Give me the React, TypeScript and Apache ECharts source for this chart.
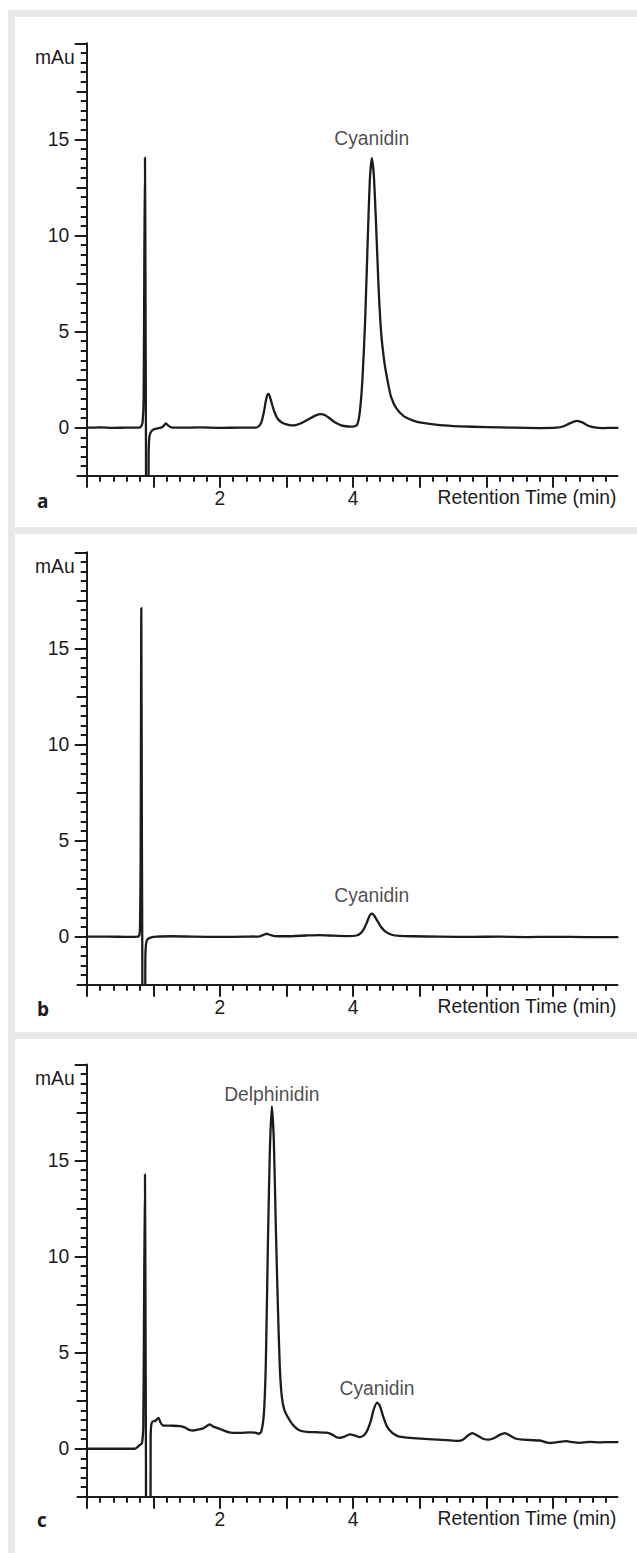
import React, { useEffect, useRef } from 'react';
import * as echarts from 'echarts';

// ---------- data ----------
const X_MIN = 0;
const X_MAX = 7.97;
const Y_MIN = -2.5;
const Y_MAX = 20;

const xMajorTicks = [0, 1, 2, 3, 4, 5, 6, 7];
const xMinorTicks = Array.from({ length: 40 }, (_, i) => Math.round(i * 2) / 10);
const xLabelTicks = [2, 4];
const yLabelTicks = [0, 5, 10, 15];
const yMajorTicks = [0, 5, 10, 15, 20];
const yMediumTicks = [-2.5, 2.5, 7.5, 12.5, 17.5];
const yMinorTicks = Array.from({ length: 46 }, (_, i) => -2.5 + i * 0.5);

const panelLetters = ['a', 'b', 'c'];
const xAxisName = 'Retention Time (min)';
const yAxisName = 'mAu';

// time (min), absorbance (mAu)
const traceA: [number, number][] = [
  [0, 0], [0.2, 0.01], [0.4, -0.01], [0.6, 0.0], [0.79, 0.0], [0.82, 0.08], [0.84, 0.3],
  [0.855, 1.5], [0.865, 8.5], [0.875, 14.05], [0.883, 7], [0.89, -1], [0.895, -8],
  [0.925, -8], [0.93, -1.5], [0.94, -0.5], [0.96, -0.25], [1.0, -0.1], [1.07, -0.04],
  [1.13, 0.02], [1.17, 0.15], [1.19, 0.22], [1.22, 0.12], [1.27, 0.02], [1.4, 0.0],
  [1.7, 0.01], [2.0, -0.01], [2.3, 0.0], [2.54, 0.0],
  [2.58, 0.06], [2.62, 0.25], [2.66, 0.8], [2.69, 1.4], [2.71, 1.68], [2.73, 1.75],
  [2.75, 1.62], [2.78, 1.25], [2.82, 0.8], [2.87, 0.45], [2.93, 0.27], [3.0, 0.17],
  [3.08, 0.12], [3.15, 0.15], [3.25, 0.28], [3.35, 0.48], [3.45, 0.65], [3.51, 0.7],
  [3.58, 0.65], [3.66, 0.45], [3.74, 0.25], [3.82, 0.12], [3.92, 0.06], [4.0, 0.05],
  [4.06, 0.15], [4.1, 0.8], [4.14, 2.5], [4.18, 5.5], [4.22, 9.8], [4.25, 12.8],
  [4.28, 14.03], [4.31, 13.2], [4.34, 11.0], [4.38, 7.5], [4.42, 5.0], [4.47, 3.4],
  [4.52, 2.4], [4.57, 1.6], [4.65, 1.0], [4.76, 0.6], [4.9, 0.37], [5.07, 0.23],
  [5.3, 0.13], [5.6, 0.07], [6.0, 0.03], [6.4, 0.0], [6.8, -0.02], [7.05, 0.0],
  [7.15, 0.06], [7.25, 0.22], [7.36, 0.35], [7.45, 0.26], [7.53, 0.1], [7.62, 0.02],
  [7.75, -0.02], [7.97, -0.01],
];

const traceB: [number, number][] = [
  [0, 0], [0.3, 0.0], [0.6, -0.01], [0.77, 0.0], [0.79, 0.08], [0.8, 0.4], [0.81, 4],
  [0.82, 17.1], [0.828, 6], [0.835, -1], [0.84, -8], [0.875, -8], [0.88, -1.2],
  [0.89, -0.4], [0.91, -0.15], [0.96, -0.05], [1.05, 0.0], [1.3, 0.02], [1.6, 0.0],
  [2.0, -0.01], [2.4, 0.0], [2.6, 0.02], [2.66, 0.1], [2.7, 0.15], [2.75, 0.1],
  [2.82, 0.03], [3.0, 0.02], [3.3, 0.06], [3.5, 0.08], [3.7, 0.05], [3.9, 0.03],
  [4.05, 0.06], [4.12, 0.2], [4.17, 0.45], [4.22, 0.85], [4.25, 1.1], [4.28, 1.2],
  [4.31, 1.13], [4.36, 0.85], [4.42, 0.5], [4.49, 0.25], [4.58, 0.1], [4.7, 0.04],
  [4.9, 0.02], [5.3, 0.0], [5.8, -0.01], [6.2, 0.0], [6.6, -0.02], [7.0, -0.01],
  [7.5, -0.02], [7.97, -0.02],
];

const traceC: [number, number][] = [
  [0, 0], [0.3, 0.0], [0.6, 0.0], [0.72, 0.0], [0.76, 0.08], [0.8, 0.2], [0.83, 0.3],
  [0.85, 1.2], [0.862, 8], [0.875, 14.27], [0.883, 7], [0.89, -1], [0.895, -8],
  [0.955, -8], [0.96, 0.5], [0.97, 1.25], [0.99, 1.42], [1.03, 1.45], [1.06, 1.55],
  [1.08, 1.6], [1.11, 1.35], [1.14, 1.22], [1.25, 1.2], [1.4, 1.18], [1.48, 1.1],
  [1.54, 0.98], [1.6, 0.95], [1.67, 1.0], [1.74, 1.05], [1.81, 1.2], [1.85, 1.27],
  [1.9, 1.15], [2.0, 1.03], [2.08, 0.92], [2.16, 0.84], [2.3, 0.83], [2.45, 0.85],
  [2.53, 0.84], [2.58, 0.78], [2.62, 0.88], [2.66, 1.8], [2.69, 4.5], [2.72, 10.5],
  [2.75, 15.5], [2.78, 17.83], [2.81, 16.0], [2.84, 11.5], [2.87, 7.5], [2.9, 4.2],
  [2.93, 2.7], [2.97, 2.0], [3.05, 1.47], [3.12, 1.15], [3.2, 0.95], [3.3, 0.88],
  [3.45, 0.86], [3.6, 0.84], [3.68, 0.75], [3.75, 0.6], [3.8, 0.57], [3.87, 0.63],
  [3.95, 0.75], [4.02, 0.7], [4.1, 0.6], [4.17, 0.72], [4.22, 1.0], [4.27, 1.5],
  [4.31, 2.05], [4.36, 2.4], [4.4, 2.25], [4.45, 1.7], [4.51, 1.15], [4.58, 0.85],
  [4.66, 0.67], [4.75, 0.6], [4.9, 0.55], [5.13, 0.5], [5.4, 0.45], [5.58, 0.41],
  [5.66, 0.5], [5.73, 0.7], [5.79, 0.81], [5.86, 0.7], [5.95, 0.52], [6.04, 0.47],
  [6.12, 0.56], [6.2, 0.72], [6.28, 0.81], [6.36, 0.68], [6.45, 0.52], [6.55, 0.47],
  [6.8, 0.43], [6.95, 0.3], [7.05, 0.33], [7.2, 0.4], [7.3, 0.34], [7.4, 0.31],
  [7.55, 0.36], [7.7, 0.33], [7.85, 0.35], [7.97, 0.35],
];

// named peaks: [name, time, height]
const peaksA: [string, number, number][] = [['Cyanidin', 4.28, 14.03]];
const peaksB: [string, number, number][] = [['Cyanidin', 4.28, 1.2]];
const peaksC: [string, number, number][] = [
  ['Delphinidin', 2.78, 17.83],
  ['Cyanidin', 4.36, 2.4],
];

const traces = [traceA, traceB, traceC];
const peaks = [peaksA, peaksB, peaksC];

// ---------- layout / style ----------
const W = 637;
const H = 1553;
const GRAY = '#e8e9e8';
const INK = '#1e1b1c';
const FONT = '"Liberation Sans", Arial, Helvetica, sans-serif';
const FS = 19.3;
const GRID_LEFT = 86.7;
const GRID_W = 530.8;
const GRID_H = 432.4;
const gridTops = [43.3, 552.3, 1064.4];
const panelRects = [
  { top: 17, height: 510 },
  { top: 534, height: 498 },
  { top: 1039, height: 514 },
];
const letterCenters = [501, 1009, 1520];
const peakLabelGaps = [[10], [9], [2, 5]];

function buildOption() {
  const grid: any[] = [];
  const xAxis: any[] = [];
  const yAxis: any[] = [];
  const series: any[] = [];
  const tickStyle = { color: INK, width: 2 };
  const textStyle = { fontSize: FS, fontFamily: FONT, color: INK };

  gridTops.forEach((top, i) => {
    grid.push({ left: GRID_LEFT, top, width: GRID_W, height: GRID_H });
    // x major
    xAxis.push({
      type: 'value', gridIndex: i, min: X_MIN, max: X_MAX, position: 'bottom',
      axisLine: { show: true, onZero: false, lineStyle: tickStyle },
      axisTick: { show: true, length: 12, customValues: xMajorTicks, lineStyle: tickStyle },
      axisLabel: { show: true, customValues: xLabelTicks, margin: 13.5, ...textStyle },
      splitLine: { show: false },
      name: xAxisName, nameLocation: 'end', nameGap: -1,
      nameTextStyle: { ...textStyle, align: 'right', verticalAlign: 'top', padding: [12.5, 0, 0, 0] },
    });
    // x minor
    xAxis.push({
      type: 'value', gridIndex: i, min: X_MIN, max: X_MAX, position: 'bottom',
      axisLine: { show: false, onZero: false },
      axisTick: { show: true, length: 6, customValues: xMinorTicks, lineStyle: tickStyle },
      axisLabel: { show: false },
      splitLine: { show: false },
    });
    // y major
    yAxis.push({
      type: 'value', gridIndex: i, min: Y_MIN, max: Y_MAX, position: 'left',
      axisLine: { show: true, onZero: false, lineStyle: tickStyle },
      axisTick: { show: true, length: 12, customValues: yMajorTicks, lineStyle: tickStyle },
      axisLabel: { show: true, customValues: yLabelTicks, margin: 17.4, ...textStyle },
      splitLine: { show: false },
      name: yAxisName, nameLocation: 'end', nameGap: -14,
      nameTextStyle: { ...textStyle, align: 'right', verticalAlign: 'middle', padding: [0, 12, 0, 0] },
    });
    // y medium
    yAxis.push({
      type: 'value', gridIndex: i, min: Y_MIN, max: Y_MAX, position: 'left',
      axisLine: { show: false, onZero: false },
      axisTick: { show: true, length: 10, customValues: yMediumTicks, lineStyle: tickStyle },
      axisLabel: { show: false },
      splitLine: { show: false },
    });
    // y minor
    yAxis.push({
      type: 'value', gridIndex: i, min: Y_MIN, max: Y_MAX, position: 'left',
      axisLine: { show: false, onZero: false },
      axisTick: { show: true, length: 6, customValues: yMinorTicks, lineStyle: tickStyle },
      axisLabel: { show: false },
      splitLine: { show: false },
    });

    series.push({
      type: 'line', xAxisIndex: i * 2, yAxisIndex: i * 3,
      data: traces[i], showSymbol: false, symbol: 'none',
      smooth: 0.2, clip: true,
      lineStyle: { color: INK, width: 2.3, join: 'round', cap: 'round' }, z: 3, silent: true,
    });
    series.push({
      type: 'scatter', xAxisIndex: i * 2, yAxisIndex: i * 3,
      symbolSize: 0, itemStyle: { color: 'transparent' }, silent: true, z: 4,
      data: peaks[i].map(([name, t, v], k) => ({
        name, value: [t, v], label: { distance: peakLabelGaps[i][k] },
      })),
      label: { show: true, position: 'top', formatter: '{b}', ...textStyle },
    });
  });

  const graphic = panelLetters.map((letter, i) => ({
    type: 'text', x: 37, y: letterCenters[i],
    style: {
      text: letter, fontSize: 19, fontWeight: 'bold', fontFamily: '"Open Sans", "DejaVu Sans", sans-serif',
      fill: INK, align: 'left', verticalAlign: 'middle',
    },
  }));

  return {
    animation: false,
    backgroundColor: 'transparent',
    grid, xAxis, yAxis, series, graphic,
  };
}

export default function App() {
  const ref = useRef<HTMLDivElement>(null);
  useEffect(() => {
    if (!ref.current) return;
    const chart = echarts.init(ref.current, null, { renderer: 'svg', width: W, height: H });
    chart.setOption(buildOption() as any);
    return () => chart.dispose();
  }, []);
  return (
    <div style={{ position: 'absolute', left: 0, top: 0, width: W, height: H, background: '#fff', overflow: 'hidden' }}>
      <div style={{ position: 'absolute', left: 8, top: 10, width: W - 8, height: H - 10, background: GRAY }} />
      {panelRects.map((r, i) => (
        <div key={i} style={{ position: 'absolute', left: 15, top: r.top, width: W - 15, height: r.height, background: '#fff' }} />
      ))}
      <div ref={ref} style={{ position: 'absolute', left: 0, top: 0, width: W, height: H }} />
    </div>
  );
}
